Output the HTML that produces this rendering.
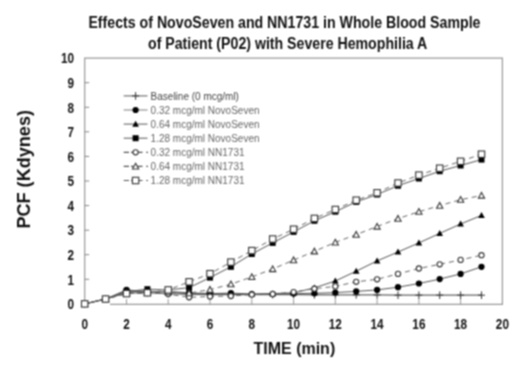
<!DOCTYPE html>
<html><head><meta charset="utf-8"><style>
html,body{margin:0;padding:0;background:#fff;}
body{width:520px;height:366px;overflow:hidden;}
svg{display:block;}
</style></head><body>
<svg width="520" height="366" viewBox="0 0 520 366">
<defs><filter id="sf" x="0" y="0" width="520" height="366" filterUnits="userSpaceOnUse" color-interpolation-filters="sRGB"><feConvolveMatrix order="3" kernelMatrix="1 2 1 2 4 2 1 2 1" divisor="16.0" edgeMode="duplicate"/></filter></defs>
<g filter="url(#sf)">
<rect width="520" height="366" fill="#fff"/>
<path d="M84.7 304.3V58.1H502.4V304.3H110" fill="none" stroke="#999" stroke-width="1.2"/>
<path d="M84.7 279.3h4.5" stroke="#888" stroke-width="1"/>
<path d="M84.7 254.7h4.5" stroke="#888" stroke-width="1"/>
<path d="M84.7 230.2h4.5" stroke="#888" stroke-width="1"/>
<path d="M84.7 205.6h4.5" stroke="#888" stroke-width="1"/>
<path d="M84.7 181.0h4.5" stroke="#888" stroke-width="1"/>
<path d="M84.7 156.4h4.5" stroke="#888" stroke-width="1"/>
<path d="M84.7 131.8h4.5" stroke="#888" stroke-width="1"/>
<path d="M84.7 107.3h4.5" stroke="#888" stroke-width="1"/>
<path d="M84.7 82.7h4.5" stroke="#888" stroke-width="1"/>
<path d="M126.5 304.3v-5.2" stroke="#999" stroke-width="1"/>
<path d="M168.2 304.3v-5.2" stroke="#999" stroke-width="1"/>
<path d="M210.0 304.3v-5.2" stroke="#999" stroke-width="1"/>
<path d="M251.8 304.3v-5.2" stroke="#999" stroke-width="1"/>
<path d="M293.6 304.3v-5.2" stroke="#999" stroke-width="1"/>
<path d="M335.3 304.3v-5.2" stroke="#999" stroke-width="1"/>
<path d="M377.1 304.3v-5.2" stroke="#999" stroke-width="1"/>
<path d="M418.9 304.3v-5.2" stroke="#999" stroke-width="1"/>
<path d="M460.6 304.3v-5.2" stroke="#999" stroke-width="1"/>
<polyline points="84.7,303.9 105.6,299.0 126.5,292.8 147.4,292.8 168.2,293.6 189.1,294.3 210.0,294.6 230.9,294.6 251.8,294.6 272.7,294.6 293.6,294.6 314.4,294.8 335.3,294.8 356.2,294.8 377.1,294.9 398.0,295.2 418.9,295.2 439.7,295.2 460.6,295.2 481.5,295.2" fill="none" stroke="#666" stroke-width="1.2"/>
<polyline points="84.7,303.9 105.6,299.0 126.5,289.9 147.4,291.6 168.2,291.6 189.1,292.8 210.0,293.6 230.9,293.1 251.8,294.1 272.7,294.1 293.6,293.6 314.4,293.3 335.3,292.6 356.2,291.4 377.1,289.9 398.0,287.2 418.9,283.5 439.7,279.1 460.6,273.9 481.5,266.8" fill="none" stroke="#555" stroke-width="1"/>
<polyline points="84.7,303.9 105.6,299.0 126.5,291.1 147.4,291.6 168.2,291.6 189.1,293.8 210.0,293.6 230.9,294.1 251.8,294.1 272.7,293.6 293.6,292.8 314.4,287.9 335.3,281.0 356.2,271.2 377.1,260.9 398.0,252.0 418.9,242.9 439.7,233.4 460.6,224.0 481.5,215.4" fill="none" stroke="#555" stroke-width="1"/>
<polyline points="84.7,303.9 105.6,299.0 126.5,291.6 147.4,289.2 168.2,289.9 189.1,287.7 210.0,277.6 230.9,266.8 251.8,254.0 272.7,242.9 293.6,231.9 314.4,220.8 335.3,211.7 356.2,201.9 377.1,194.5 398.0,185.7 418.9,178.5 439.7,171.2 460.6,165.5 481.5,159.6" fill="none" stroke="#555" stroke-width="1"/>
<polyline points="84.7,303.9 105.6,299.0 126.5,293.6 147.4,292.8 168.2,294.1 189.1,297.3 210.0,296.5 230.9,296.0 251.8,294.6 272.7,294.1 293.6,292.1 314.4,288.7 335.3,286.4 356.2,281.8 377.1,279.3 398.0,273.9 418.9,268.5 439.7,264.3 460.6,259.9 481.5,255.2" fill="none" stroke="#666" stroke-width="1" stroke-dasharray="5,4"/>
<polyline points="84.7,303.9 105.6,299.0 126.5,292.8 147.4,292.8 168.2,292.1 189.1,293.1 210.0,289.6 230.9,284.2 251.8,276.9 272.7,269.0 293.6,260.1 314.4,251.3 335.3,242.4 356.2,234.6 377.1,226.5 398.0,218.6 418.9,211.7 439.7,205.6 460.6,199.7 481.5,195.5" fill="none" stroke="#666" stroke-width="1" stroke-dasharray="5,4"/>
<polyline points="84.7,303.9 105.6,299.0 126.5,293.6 147.4,292.8 168.2,289.9 189.1,281.8 210.0,273.7 230.9,262.1 251.8,250.6 272.7,239.0 293.6,229.2 314.4,218.4 335.3,209.5 356.2,200.2 377.1,192.8 398.0,183.0 418.9,175.1 439.7,168.2 460.6,161.3 481.5,154.2" fill="none" stroke="#666" stroke-width="1" stroke-dasharray="5,4"/>
<path d="M81.2 303.9h7M84.7 300.1v7.6" stroke="#333" stroke-width="1"/>
<path d="M102.1 299.0h7M105.6 295.2v7.6" stroke="#333" stroke-width="1"/>
<path d="M123.0 292.8h7M126.5 289.0v7.6" stroke="#333" stroke-width="1"/>
<path d="M143.9 292.8h7M147.4 289.0v7.6" stroke="#333" stroke-width="1"/>
<path d="M164.7 293.6h7M168.2 289.8v7.6" stroke="#333" stroke-width="1"/>
<path d="M185.6 294.3h7M189.1 290.5v7.6" stroke="#333" stroke-width="1"/>
<path d="M206.5 294.6h7M210.0 290.8v7.6" stroke="#333" stroke-width="1"/>
<path d="M227.4 294.6h7M230.9 290.8v7.6" stroke="#333" stroke-width="1"/>
<path d="M248.3 294.6h7M251.8 290.8v7.6" stroke="#333" stroke-width="1"/>
<path d="M269.2 294.6h7M272.7 290.8v7.6" stroke="#333" stroke-width="1"/>
<path d="M290.1 294.6h7M293.6 290.8v7.6" stroke="#333" stroke-width="1"/>
<path d="M310.9 294.8h7M314.4 291.0v7.6" stroke="#333" stroke-width="1"/>
<path d="M331.8 294.8h7M335.3 291.0v7.6" stroke="#333" stroke-width="1"/>
<path d="M352.7 294.8h7M356.2 291.0v7.6" stroke="#333" stroke-width="1"/>
<path d="M373.6 294.9h7M377.1 291.1v7.6" stroke="#333" stroke-width="1"/>
<path d="M394.5 295.2h7M398.0 291.4v7.6" stroke="#333" stroke-width="1"/>
<path d="M415.4 295.2h7M418.9 291.4v7.6" stroke="#333" stroke-width="1"/>
<path d="M436.2 295.2h7M439.7 291.4v7.6" stroke="#333" stroke-width="1"/>
<path d="M457.1 295.2h7M460.6 291.4v7.6" stroke="#333" stroke-width="1"/>
<path d="M478.0 295.2h7M481.5 291.4v7.6" stroke="#333" stroke-width="1"/>
<circle cx="84.7" cy="303.9" r="3.1" fill="#000"/>
<circle cx="105.6" cy="299.0" r="3.1" fill="#000"/>
<circle cx="126.5" cy="289.9" r="3.1" fill="#000"/>
<circle cx="147.4" cy="291.6" r="3.1" fill="#000"/>
<circle cx="168.2" cy="291.6" r="3.1" fill="#000"/>
<circle cx="189.1" cy="292.8" r="3.1" fill="#000"/>
<circle cx="210.0" cy="293.6" r="3.1" fill="#000"/>
<circle cx="230.9" cy="293.1" r="3.1" fill="#000"/>
<circle cx="251.8" cy="294.1" r="3.1" fill="#000"/>
<circle cx="272.7" cy="294.1" r="3.1" fill="#000"/>
<circle cx="293.6" cy="293.6" r="3.1" fill="#000"/>
<circle cx="314.4" cy="293.3" r="3.1" fill="#000"/>
<circle cx="335.3" cy="292.6" r="3.1" fill="#000"/>
<circle cx="356.2" cy="291.4" r="3.1" fill="#000"/>
<circle cx="377.1" cy="289.9" r="3.1" fill="#000"/>
<circle cx="398.0" cy="287.2" r="3.1" fill="#000"/>
<circle cx="418.9" cy="283.5" r="3.1" fill="#000"/>
<circle cx="439.7" cy="279.1" r="3.1" fill="#000"/>
<circle cx="460.6" cy="273.9" r="3.1" fill="#000"/>
<circle cx="481.5" cy="266.8" r="3.1" fill="#000"/>
<path d="M84.7 300.5L88.0 306.5L81.4 306.5Z" fill="#000"/>
<path d="M105.6 295.6L108.9 301.6L102.3 301.6Z" fill="#000"/>
<path d="M126.5 287.7L129.8 293.7L123.2 293.7Z" fill="#000"/>
<path d="M147.4 288.2L150.7 294.2L144.1 294.2Z" fill="#000"/>
<path d="M168.2 288.2L171.5 294.2L164.9 294.2Z" fill="#000"/>
<path d="M189.1 290.4L192.4 296.4L185.8 296.4Z" fill="#000"/>
<path d="M210.0 290.2L213.3 296.2L206.7 296.2Z" fill="#000"/>
<path d="M230.9 290.7L234.2 296.7L227.6 296.7Z" fill="#000"/>
<path d="M251.8 290.7L255.1 296.7L248.5 296.7Z" fill="#000"/>
<path d="M272.7 290.2L276.0 296.2L269.4 296.2Z" fill="#000"/>
<path d="M293.6 289.4L296.9 295.4L290.2 295.4Z" fill="#000"/>
<path d="M314.4 284.5L317.7 290.5L311.1 290.5Z" fill="#000"/>
<path d="M335.3 277.6L338.6 283.6L332.0 283.6Z" fill="#000"/>
<path d="M356.2 267.8L359.5 273.8L352.9 273.8Z" fill="#000"/>
<path d="M377.1 257.5L380.4 263.5L373.8 263.5Z" fill="#000"/>
<path d="M398.0 248.6L401.3 254.6L394.7 254.6Z" fill="#000"/>
<path d="M418.9 239.5L422.2 245.5L415.6 245.5Z" fill="#000"/>
<path d="M439.7 230.0L443.0 236.0L436.4 236.0Z" fill="#000"/>
<path d="M460.6 220.6L463.9 226.6L457.3 226.6Z" fill="#000"/>
<path d="M481.5 212.0L484.8 218.0L478.2 218.0Z" fill="#000"/>
<rect x="81.7" y="300.9" width="6" height="6" fill="#000"/>
<rect x="102.6" y="296.0" width="6" height="6" fill="#000"/>
<rect x="123.5" y="288.6" width="6" height="6" fill="#000"/>
<rect x="144.4" y="286.2" width="6" height="6" fill="#000"/>
<rect x="165.2" y="286.9" width="6" height="6" fill="#000"/>
<rect x="186.1" y="284.7" width="6" height="6" fill="#000"/>
<rect x="207.0" y="274.6" width="6" height="6" fill="#000"/>
<rect x="227.9" y="263.8" width="6" height="6" fill="#000"/>
<rect x="248.8" y="251.0" width="6" height="6" fill="#000"/>
<rect x="269.7" y="239.9" width="6" height="6" fill="#000"/>
<rect x="290.6" y="228.9" width="6" height="6" fill="#000"/>
<rect x="311.4" y="217.8" width="6" height="6" fill="#000"/>
<rect x="332.3" y="208.7" width="6" height="6" fill="#000"/>
<rect x="353.2" y="198.9" width="6" height="6" fill="#000"/>
<rect x="374.1" y="191.5" width="6" height="6" fill="#000"/>
<rect x="395.0" y="182.7" width="6" height="6" fill="#000"/>
<rect x="415.9" y="175.5" width="6" height="6" fill="#000"/>
<rect x="436.7" y="168.2" width="6" height="6" fill="#000"/>
<rect x="457.6" y="162.5" width="6" height="6" fill="#000"/>
<rect x="478.5" y="156.6" width="6" height="6" fill="#000"/>
<circle cx="84.7" cy="303.9" r="2.6" fill="#fff" stroke="#333" stroke-width="1.1"/>
<circle cx="105.6" cy="299.0" r="2.6" fill="#fff" stroke="#333" stroke-width="1.1"/>
<circle cx="126.5" cy="293.6" r="2.6" fill="#fff" stroke="#333" stroke-width="1.1"/>
<circle cx="147.4" cy="292.8" r="2.6" fill="#fff" stroke="#333" stroke-width="1.1"/>
<circle cx="168.2" cy="294.1" r="2.6" fill="#fff" stroke="#333" stroke-width="1.1"/>
<circle cx="189.1" cy="297.3" r="2.6" fill="#fff" stroke="#333" stroke-width="1.1"/>
<circle cx="210.0" cy="296.5" r="2.6" fill="#fff" stroke="#333" stroke-width="1.1"/>
<circle cx="230.9" cy="296.0" r="2.6" fill="#fff" stroke="#333" stroke-width="1.1"/>
<circle cx="251.8" cy="294.6" r="2.6" fill="#fff" stroke="#333" stroke-width="1.1"/>
<circle cx="272.7" cy="294.1" r="2.6" fill="#fff" stroke="#333" stroke-width="1.1"/>
<circle cx="293.6" cy="292.1" r="2.6" fill="#fff" stroke="#333" stroke-width="1.1"/>
<circle cx="314.4" cy="288.7" r="2.6" fill="#fff" stroke="#333" stroke-width="1.1"/>
<circle cx="335.3" cy="286.4" r="2.6" fill="#fff" stroke="#333" stroke-width="1.1"/>
<circle cx="356.2" cy="281.8" r="2.6" fill="#fff" stroke="#333" stroke-width="1.1"/>
<circle cx="377.1" cy="279.3" r="2.6" fill="#fff" stroke="#333" stroke-width="1.1"/>
<circle cx="398.0" cy="273.9" r="2.6" fill="#fff" stroke="#333" stroke-width="1.1"/>
<circle cx="418.9" cy="268.5" r="2.6" fill="#fff" stroke="#333" stroke-width="1.1"/>
<circle cx="439.7" cy="264.3" r="2.6" fill="#fff" stroke="#333" stroke-width="1.1"/>
<circle cx="460.6" cy="259.9" r="2.6" fill="#fff" stroke="#333" stroke-width="1.1"/>
<circle cx="481.5" cy="255.2" r="2.6" fill="#fff" stroke="#333" stroke-width="1.1"/>
<path d="M84.7 300.8L87.8 306.5L81.6 306.5Z" fill="#fff" stroke="#333" stroke-width="1.1"/>
<path d="M105.6 295.9L108.7 301.6L102.5 301.6Z" fill="#fff" stroke="#333" stroke-width="1.1"/>
<path d="M126.5 289.7L129.6 295.4L123.4 295.4Z" fill="#fff" stroke="#333" stroke-width="1.1"/>
<path d="M147.4 289.7L150.5 295.4L144.3 295.4Z" fill="#fff" stroke="#333" stroke-width="1.1"/>
<path d="M168.2 289.0L171.3 294.7L165.1 294.7Z" fill="#fff" stroke="#333" stroke-width="1.1"/>
<path d="M189.1 290.0L192.2 295.7L186.0 295.7Z" fill="#fff" stroke="#333" stroke-width="1.1"/>
<path d="M210.0 286.5L213.1 292.2L206.9 292.2Z" fill="#fff" stroke="#333" stroke-width="1.1"/>
<path d="M230.9 281.1L234.0 286.8L227.8 286.8Z" fill="#fff" stroke="#333" stroke-width="1.1"/>
<path d="M251.8 273.8L254.9 279.5L248.7 279.5Z" fill="#fff" stroke="#333" stroke-width="1.1"/>
<path d="M272.7 265.9L275.8 271.6L269.6 271.6Z" fill="#fff" stroke="#333" stroke-width="1.1"/>
<path d="M293.6 257.0L296.7 262.7L290.4 262.7Z" fill="#fff" stroke="#333" stroke-width="1.1"/>
<path d="M314.4 248.2L317.5 253.9L311.3 253.9Z" fill="#fff" stroke="#333" stroke-width="1.1"/>
<path d="M335.3 239.3L338.4 245.0L332.2 245.0Z" fill="#fff" stroke="#333" stroke-width="1.1"/>
<path d="M356.2 231.5L359.3 237.2L353.1 237.2Z" fill="#fff" stroke="#333" stroke-width="1.1"/>
<path d="M377.1 223.4L380.2 229.1L374.0 229.1Z" fill="#fff" stroke="#333" stroke-width="1.1"/>
<path d="M398.0 215.5L401.1 221.2L394.9 221.2Z" fill="#fff" stroke="#333" stroke-width="1.1"/>
<path d="M418.9 208.6L422.0 214.3L415.8 214.3Z" fill="#fff" stroke="#333" stroke-width="1.1"/>
<path d="M439.7 202.5L442.8 208.2L436.6 208.2Z" fill="#fff" stroke="#333" stroke-width="1.1"/>
<path d="M460.6 196.6L463.7 202.3L457.5 202.3Z" fill="#fff" stroke="#333" stroke-width="1.1"/>
<path d="M481.5 192.4L484.6 198.1L478.4 198.1Z" fill="#fff" stroke="#333" stroke-width="1.1"/>
<rect x="81.5" y="300.7" width="6.4" height="6.4" fill="#fff" stroke="#333" stroke-width="1.1"/>
<rect x="102.4" y="295.8" width="6.4" height="6.4" fill="#fff" stroke="#333" stroke-width="1.1"/>
<rect x="123.3" y="290.4" width="6.4" height="6.4" fill="#fff" stroke="#333" stroke-width="1.1"/>
<rect x="144.2" y="289.6" width="6.4" height="6.4" fill="#fff" stroke="#333" stroke-width="1.1"/>
<rect x="165.0" y="286.7" width="6.4" height="6.4" fill="#fff" stroke="#333" stroke-width="1.1"/>
<rect x="185.9" y="278.6" width="6.4" height="6.4" fill="#fff" stroke="#333" stroke-width="1.1"/>
<rect x="206.8" y="270.5" width="6.4" height="6.4" fill="#fff" stroke="#333" stroke-width="1.1"/>
<rect x="227.7" y="258.9" width="6.4" height="6.4" fill="#fff" stroke="#333" stroke-width="1.1"/>
<rect x="248.6" y="247.4" width="6.4" height="6.4" fill="#fff" stroke="#333" stroke-width="1.1"/>
<rect x="269.5" y="235.8" width="6.4" height="6.4" fill="#fff" stroke="#333" stroke-width="1.1"/>
<rect x="290.4" y="226.0" width="6.4" height="6.4" fill="#fff" stroke="#333" stroke-width="1.1"/>
<rect x="311.2" y="215.2" width="6.4" height="6.4" fill="#fff" stroke="#333" stroke-width="1.1"/>
<rect x="332.1" y="206.3" width="6.4" height="6.4" fill="#fff" stroke="#333" stroke-width="1.1"/>
<rect x="353.0" y="197.0" width="6.4" height="6.4" fill="#fff" stroke="#333" stroke-width="1.1"/>
<rect x="373.9" y="189.6" width="6.4" height="6.4" fill="#fff" stroke="#333" stroke-width="1.1"/>
<rect x="394.8" y="179.8" width="6.4" height="6.4" fill="#fff" stroke="#333" stroke-width="1.1"/>
<rect x="415.7" y="171.9" width="6.4" height="6.4" fill="#fff" stroke="#333" stroke-width="1.1"/>
<rect x="436.5" y="165.0" width="6.4" height="6.4" fill="#fff" stroke="#333" stroke-width="1.1"/>
<rect x="457.4" y="158.1" width="6.4" height="6.4" fill="#fff" stroke="#333" stroke-width="1.1"/>
<rect x="478.3" y="151.0" width="6.4" height="6.4" fill="#fff" stroke="#333" stroke-width="1.1"/>
<text x="74" y="309.2" text-anchor="end" transform="translate(74 0) scale(0.84 1) translate(-74 0)" style='font-family:"Liberation Sans",sans-serif;font-weight:bold;font-size:14px;fill:#111'>0</text>
<text x="74" y="284.6" text-anchor="end" transform="translate(74 0) scale(0.84 1) translate(-74 0)" style='font-family:"Liberation Sans",sans-serif;font-weight:bold;font-size:14px;fill:#111'>1</text>
<text x="74" y="260.0" text-anchor="end" transform="translate(74 0) scale(0.84 1) translate(-74 0)" style='font-family:"Liberation Sans",sans-serif;font-weight:bold;font-size:14px;fill:#111'>2</text>
<text x="74" y="235.5" text-anchor="end" transform="translate(74 0) scale(0.84 1) translate(-74 0)" style='font-family:"Liberation Sans",sans-serif;font-weight:bold;font-size:14px;fill:#111'>3</text>
<text x="74" y="210.9" text-anchor="end" transform="translate(74 0) scale(0.84 1) translate(-74 0)" style='font-family:"Liberation Sans",sans-serif;font-weight:bold;font-size:14px;fill:#111'>4</text>
<text x="74" y="186.3" text-anchor="end" transform="translate(74 0) scale(0.84 1) translate(-74 0)" style='font-family:"Liberation Sans",sans-serif;font-weight:bold;font-size:14px;fill:#111'>5</text>
<text x="74" y="161.7" text-anchor="end" transform="translate(74 0) scale(0.84 1) translate(-74 0)" style='font-family:"Liberation Sans",sans-serif;font-weight:bold;font-size:14px;fill:#111'>6</text>
<text x="74" y="137.1" text-anchor="end" transform="translate(74 0) scale(0.84 1) translate(-74 0)" style='font-family:"Liberation Sans",sans-serif;font-weight:bold;font-size:14px;fill:#111'>7</text>
<text x="74" y="112.6" text-anchor="end" transform="translate(74 0) scale(0.84 1) translate(-74 0)" style='font-family:"Liberation Sans",sans-serif;font-weight:bold;font-size:14px;fill:#111'>8</text>
<text x="74" y="88.0" text-anchor="end" transform="translate(74 0) scale(0.84 1) translate(-74 0)" style='font-family:"Liberation Sans",sans-serif;font-weight:bold;font-size:14px;fill:#111'>9</text>
<text x="74" y="63.4" text-anchor="end" transform="translate(74 0) scale(0.84 1) translate(-74 0)" style='font-family:"Liberation Sans",sans-serif;font-weight:bold;font-size:14px;fill:#111'>10</text>
<text x="84.7" y="328.6" text-anchor="middle" transform="translate(84.7 0) scale(0.84 1) translate(-84.7 0)" style='font-family:"Liberation Sans",sans-serif;font-weight:bold;font-size:14px;fill:#111'>0</text>
<text x="126.5" y="328.6" text-anchor="middle" transform="translate(126.5 0) scale(0.84 1) translate(-126.5 0)" style='font-family:"Liberation Sans",sans-serif;font-weight:bold;font-size:14px;fill:#111'>2</text>
<text x="168.2" y="328.6" text-anchor="middle" transform="translate(168.2 0) scale(0.84 1) translate(-168.2 0)" style='font-family:"Liberation Sans",sans-serif;font-weight:bold;font-size:14px;fill:#111'>4</text>
<text x="210.0" y="328.6" text-anchor="middle" transform="translate(210.0 0) scale(0.84 1) translate(-210.0 0)" style='font-family:"Liberation Sans",sans-serif;font-weight:bold;font-size:14px;fill:#111'>6</text>
<text x="251.8" y="328.6" text-anchor="middle" transform="translate(251.8 0) scale(0.84 1) translate(-251.8 0)" style='font-family:"Liberation Sans",sans-serif;font-weight:bold;font-size:14px;fill:#111'>8</text>
<text x="293.6" y="328.6" text-anchor="middle" transform="translate(293.6 0) scale(0.84 1) translate(-293.6 0)" style='font-family:"Liberation Sans",sans-serif;font-weight:bold;font-size:14px;fill:#111'>10</text>
<text x="335.3" y="328.6" text-anchor="middle" transform="translate(335.3 0) scale(0.84 1) translate(-335.3 0)" style='font-family:"Liberation Sans",sans-serif;font-weight:bold;font-size:14px;fill:#111'>12</text>
<text x="377.1" y="328.6" text-anchor="middle" transform="translate(377.1 0) scale(0.84 1) translate(-377.1 0)" style='font-family:"Liberation Sans",sans-serif;font-weight:bold;font-size:14px;fill:#111'>14</text>
<text x="418.9" y="328.6" text-anchor="middle" transform="translate(418.9 0) scale(0.84 1) translate(-418.9 0)" style='font-family:"Liberation Sans",sans-serif;font-weight:bold;font-size:14px;fill:#111'>16</text>
<text x="460.6" y="328.6" text-anchor="middle" transform="translate(460.6 0) scale(0.84 1) translate(-460.6 0)" style='font-family:"Liberation Sans",sans-serif;font-weight:bold;font-size:14px;fill:#111'>18</text>
<text x="502.4" y="328.6" text-anchor="middle" transform="translate(502.4 0) scale(0.84 1) translate(-502.4 0)" style='font-family:"Liberation Sans",sans-serif;font-weight:bold;font-size:14px;fill:#111'>20</text>
<path d="M123.7 95.9H147.5" stroke="#666" stroke-width="1.1"/>
<path d="M132.1 95.9h7M135.6 92.1v7.6" stroke="#333" stroke-width="1"/>
<text x="150.6" y="99.5" style='font-family:"Liberation Sans",sans-serif;font-size:10px;fill:#777;fill:#444'>Baseline (0 mcg/ml)</text>
<path d="M123.7 110.0H147.5" stroke="#888" stroke-width="1.1"/>
<circle cx="135.6" cy="110.0" r="3.1" fill="#000"/>
<text x="150.6" y="113.6" style='font-family:"Liberation Sans",sans-serif;font-size:10px;fill:#777;fill:#666'>0.32 mcg/ml NovoSeven</text>
<path d="M123.7 124.1H147.5" stroke="#666" stroke-width="1.1"/>
<path d="M135.6 120.7L138.9 126.7L132.3 126.7Z" fill="#000"/>
<text x="150.6" y="127.7" style='font-family:"Liberation Sans",sans-serif;font-size:10px;fill:#777;fill:#666'>0.64 mcg/ml NovoSeven</text>
<path d="M123.7 138.2H147.5" stroke="#666" stroke-width="1.1"/>
<rect x="132.6" y="135.2" width="6" height="6" fill="#000"/>
<text x="150.6" y="141.8" style='font-family:"Liberation Sans",sans-serif;font-size:10px;fill:#777;fill:#666'>1.28 mcg/ml NovoSeven</text>
<path d="M123.7 152.3H129M131 152.3H142.5M146.3 152.3H148" stroke="#555" stroke-width="1.2"/>
<circle cx="135.6" cy="152.3" r="2.6" fill="#fff" stroke="#333" stroke-width="1.1"/>
<text x="150.6" y="155.9" style='font-family:"Liberation Sans",sans-serif;font-size:10px;fill:#777;fill:#666'>0.32 mcg/ml NN1731</text>
<path d="M123.7 166.4H129M131 166.4H142.5M146.3 166.4H148" stroke="#555" stroke-width="1.2"/>
<path d="M135.6 163.3L138.7 169.0L132.5 169.0Z" fill="#fff" stroke="#333" stroke-width="1.1"/>
<text x="150.6" y="170.0" style='font-family:"Liberation Sans",sans-serif;font-size:10px;fill:#777;fill:#666'>0.64 mcg/ml NN1731</text>
<path d="M123.7 180.5H129M131 180.5H142.5M146.3 180.5H148" stroke="#555" stroke-width="1.2"/>
<rect x="132.4" y="177.3" width="6.4" height="6.4" fill="#fff" stroke="#333" stroke-width="1.1"/>
<text x="150.6" y="184.1" style='font-family:"Liberation Sans",sans-serif;font-size:10px;fill:#777;fill:#666'>1.28 mcg/ml NN1731</text>
<text x="88.4" y="28.3" textLength="392.1" lengthAdjust="spacingAndGlyphs" style='font-family:"Liberation Sans",sans-serif;font-weight:bold;font-size:16px;fill:#111'>Effects of NovoSeven and NN1731 in Whole Blood Sample</text>
<text x="148" y="48.6" textLength="279.3" lengthAdjust="spacingAndGlyphs" style='font-family:"Liberation Sans",sans-serif;font-weight:bold;font-size:16px;fill:#111'>of Patient (P02) with Severe Hemophilia A</text>
<text x="253.5" y="354.2" textLength="81.7" lengthAdjust="spacingAndGlyphs" style='font-family:"Liberation Sans",sans-serif;font-weight:bold;font-size:16px;fill:#111'>TIME (min)</text>
<text transform="translate(30 228.6) rotate(-90)" x="0" y="0" textLength="118.6" lengthAdjust="spacingAndGlyphs" style='font-family:"Liberation Sans",sans-serif;font-weight:bold;font-size:19px;fill:#111'>PCF (Kdynes)</text>
</g>
</svg>
</body></html>
